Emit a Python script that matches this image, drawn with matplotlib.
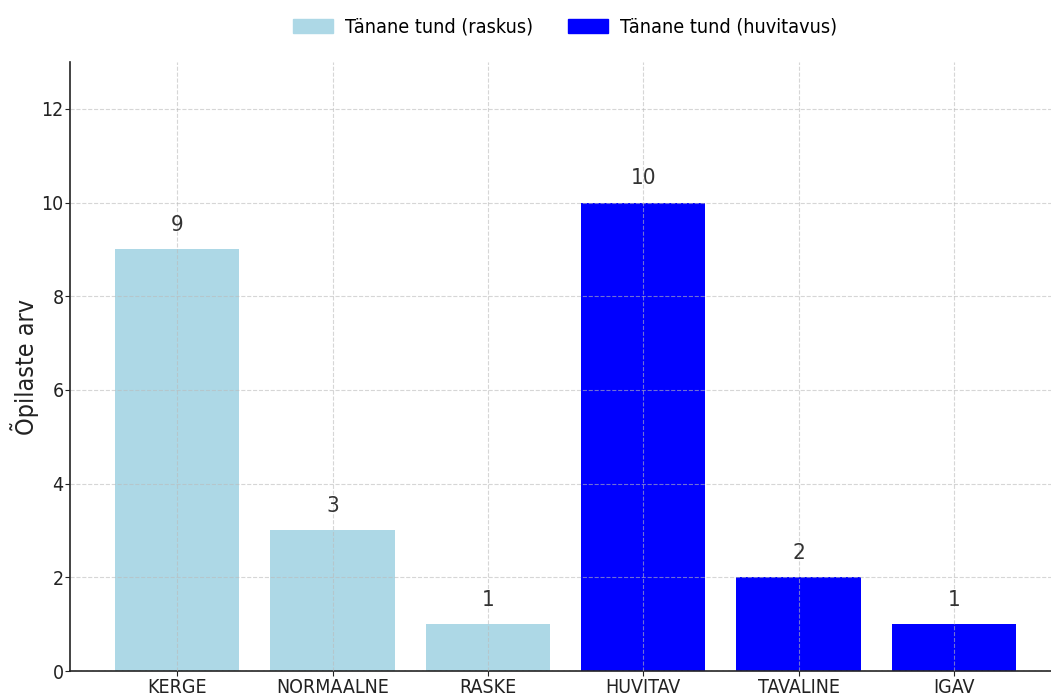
import matplotlib
matplotlib.use("Agg")
import matplotlib.pyplot as plt
from matplotlib.patches import Patch

categories = ["KERGE", "NORMAALNE", "RASKE", "HUVITAV", "TAVALINE", "IGAV"]
values = [9, 3, 1, 10, 2, 1]
groups = ["raskus", "raskus", "raskus", "huvitavus", "huvitavus", "huvitavus"]
group_labels = {"raskus": "Tänane tund (raskus)", "huvitavus": "Tänane tund (huvitavus)"}
group_colors = {"raskus": "lightblue", "huvitavus": "blue"}
y_ticks = [0, 2, 4, 6, 8, 10, 12]

plt.rcParams["font.family"] = ["DejaVu Sans"]
plt.rcParams["font.stretch"] = "condensed"

fig = plt.figure(figsize=(10.51, 6.96), dpi=100)
ax = fig.add_axes([0.0666, 0.0359, 0.943, 0.875])

colors = [group_colors[g] for g in groups]
bars = ax.bar(categories, values, width=0.8, color=colors, zorder=2)

for rect, v in zip(bars, values):
    ax.text(rect.get_x() + rect.get_width() / 2, v + 0.3, str(v),
            ha="center", va="bottom", fontsize=16, color="#333333", zorder=4)

ax.set_ylim(0, 13)
ax.set_yticks(y_ticks)
ax.set_ylabel("Õpilaste arv", fontsize=18, color="#222222")
ax.yaxis.set_label_coords(-0.031, 0.5)
ax.tick_params(axis="both", labelsize=14, colors="#222222")
ax.tick_params(axis="x", pad=1.5)
ax.tick_params(axis="y", pad=1.0)
ax.grid(True, linestyle="--", color="#bbbbbb", alpha=0.6, linewidth=0.8, zorder=3)
ax.set_axisbelow(False)
for side in ("top", "right"):
    ax.spines[side].set_visible(False)
for side in ("left", "bottom"):
    ax.spines[side].set_color("#222222")
    ax.spines[side].set_linewidth(1.2)

handles = [Patch(color=group_colors[k], label=group_labels[k]) for k in ("raskus", "huvitavus")]
fig.legend(handles=handles, loc="center", bbox_to_anchor=(565 / 1051, 1 - 27 / 696),
           ncol=2, frameon=False, fontsize=14.2, handlelength=2.0, handletextpad=0.6,
           columnspacing=1.8)

fig.savefig("out.png", dpi=100)
